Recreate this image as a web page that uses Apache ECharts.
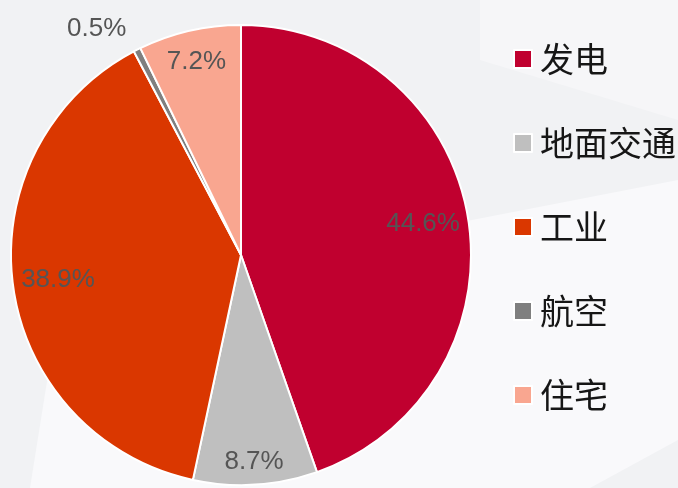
<!DOCTYPE html>
<html>
<head>
<meta charset="utf-8">
<script src="https://cdn.jsdelivr.net/npm/echarts@6/dist/echarts.min.js"></script>
<style>
  html, body { margin: 0; padding: 0; background: #f1f2f4; }
  #main { width: 678px; height: 488px; }
</style>
</head>
<body>
<div id="main"></div>
<script>
// 数据
const names = ['发电', '地面交通', '工业', '航空', '住宅'];
const values = [44.6, 8.7, 38.9, 0.5, 7.2];
const colors = ['#c0002f', '#bfbfbf', '#da3700', '#7f7f7f', '#f9a690'];
// 标签在扇区内的几档位置
const nearLabels = ['发电', '工业'];
const midLabels = ['住宅'];
const farLabels = ['地面交通'];

const chart = echarts.init(document.getElementById('main'), null, { renderer: 'canvas' });

const center = [241, 255];
const R = 230;

const pieData = names.map((n, i) => {
  const item = { name: n, value: values[i], itemStyle: { color: colors[i] } };
  if (n === '航空') {
    item.label = { show: true, position: 'outside' };
    item.labelLine = { show: false, length: 24, length2: -5 };
  }
  return item;
});

function labelData(showList) {
  return names.map((n, i) => ({
    name: n,
    value: values[i],
    label: { show: showList.indexOf(n) >= 0 }
  }));
}

const labelFont = {
  fontFamily: '"Liberation Sans", Arial, sans-serif',
  fontSize: 26,
  color: '#555555'
};

function labelSeries(inner, showList) {
  return {
    type: 'pie',
    center: center,
    radius: [inner, R],
    startAngle: 90,
    clockwise: true,
    silent: true,
    avoidLabelOverlap: false,
    itemStyle: { color: 'rgba(0,0,0,0)', borderWidth: 0 },
    label: Object.assign({ position: 'inside', formatter: '{c}%' }, labelFont),
    labelLine: { show: false },
    emphasis: { disabled: true },
    data: labelData(showList)
  };
}

const option = {
  backgroundColor: '#f1f2f4',
  animation: false,
  graphic: [
    {
      type: 'polygon', z: -10, silent: true,
      shape: { points: [[30, 488], [60, 300], [678, 180], [678, 440], [590, 488]] },
      style: { fill: '#f9f9fb' }
    },
    {
      type: 'polygon', z: -10, silent: true,
      shape: { points: [[480, 0], [678, 0], [678, 120], [480, 60]] },
      style: { fill: '#f6f6f8' }
    }
  ],
  legend: {
    orient: 'vertical',
    left: 513,
    top: 42,
    padding: 0,
    icon: 'rect',
    itemWidth: 18,
    itemHeight: 18,
    itemGap: 50,
    data: names,
    textStyle: {
      fontFamily: '"Noto Sans CJK SC", sans-serif',
      fontSize: 34,
      color: '#161616',
      padding: [0, 0, 0, 3]
    }
  },
  series: [
    {
      type: 'pie',
      center: center,
      radius: [0, R],
      startAngle: 90,
      clockwise: true,
      avoidLabelOverlap: false,
      itemStyle: { borderColor: '#ffffff', borderWidth: 2 },
      label: Object.assign({ show: false, formatter: '{c}%' }, labelFont),
      labelLine: { show: false },
      emphasis: { disabled: true },
      data: pieData
    },
    labelSeries(R * 0.58, nearLabels),
    labelSeries(R * 0.70, midLabels),
    labelSeries(R * 0.78, farLabels)
  ]
};

chart.setOption(option);
</script>
</body>
</html>
